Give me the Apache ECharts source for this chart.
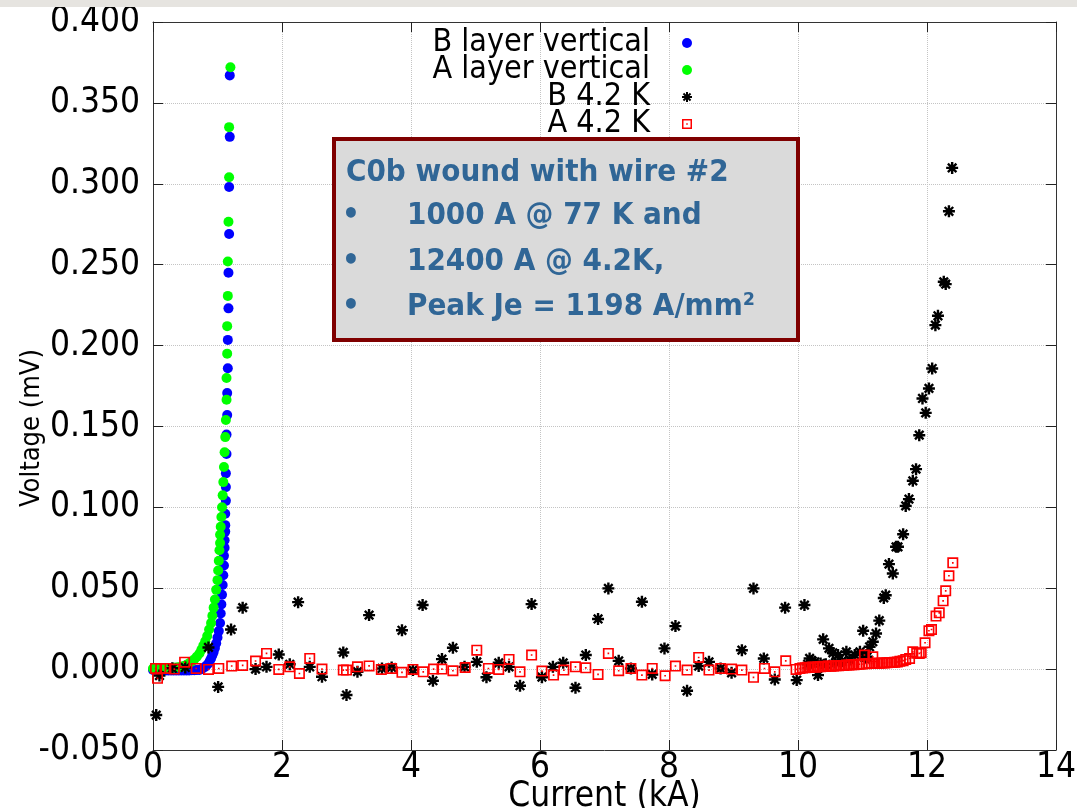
<!DOCTYPE html>
<html>
<head>
<meta charset="utf-8">
<title>C0b wound with wire #2</title>
<script src="https://cdn.jsdelivr.net/npm/echarts@6/dist/echarts.min.js"></script>
<style>
  html, body { margin: 0; padding: 0; background: #fff; }
  #chart { width: 1077px; height: 808px; }
</style>
</head>
<body>
<div id="chart"></div>
<script>
  // [current kA, voltage mV]
  var bLayerVertical = [
    [0.00, -0.0005], [0.04, -0.0006], [0.08, -0.0007], [0.12, -0.0008], [0.16, -0.0008], [0.20, -0.0009],
    [0.24, -0.0009], [0.28, -0.0009], [0.32, -0.0009], [0.36, -0.0009], [0.40, -0.0009], [0.44, -0.0009],
    [0.48, -0.0008], [0.52, -0.0008], [0.56, -0.0008], [0.60, -0.0007], [0.64, -0.0007], [0.68, -0.0006],
    [0.72, -0.0005], [0.76, 0.0002], [0.80, 0.0012], [0.83, 0.0022], [0.86, 0.0035], [0.88, 0.0050],
    [0.90, 0.0066], [0.92, 0.0085], [0.94, 0.0105], [0.96, 0.0130], [0.98, 0.0160], [1.00, 0.0195],
    [1.02, 0.0235], [1.04, 0.0285], [1.05, 0.0344], [1.06, 0.0400], [1.07, 0.0460], [1.08, 0.0520],
    [1.09, 0.0580], [1.10, 0.0640], [1.10, 0.0700], [1.11, 0.0750], [1.11, 0.0797], [1.12, 0.0850],
    [1.12, 0.0890], [1.12, 0.0960], [1.13, 0.1040], [1.13, 0.1125], [1.13, 0.1210], [1.14, 0.1330],
    [1.14, 0.1450], [1.15, 0.1570], [1.15, 0.1706], [1.16, 0.1860], [1.16, 0.2035], [1.17, 0.2230],
    [1.17, 0.2450], [1.18, 0.2690], [1.18, 0.2980], [1.19, 0.3290], [1.19, 0.3670]
  ];
  var aLayerVertical = [
    [0.00, 0.0004], [0.04, 0.0004], [0.08, 0.0004], [0.12, 0.0004], [0.16, 0.0004], [0.20, 0.0005],
    [0.24, 0.0006], [0.28, 0.0007], [0.32, 0.0008], [0.36, 0.0010], [0.40, 0.0012], [0.44, 0.0015],
    [0.48, 0.0020], [0.52, 0.0027], [0.56, 0.0036], [0.60, 0.0047], [0.64, 0.0060], [0.68, 0.0077],
    [0.72, 0.0097], [0.75, 0.0120], [0.78, 0.0145], [0.81, 0.0172], [0.84, 0.0205], [0.87, 0.0245],
    [0.90, 0.0285], [0.92, 0.0330], [0.94, 0.0380], [0.96, 0.0430], [0.98, 0.0490], [1.00, 0.0550],
    [1.01, 0.0610], [1.02, 0.0670], [1.03, 0.0735], [1.04, 0.0780], [1.04, 0.0830], [1.05, 0.0880],
    [1.06, 0.0940], [1.07, 0.1000], [1.08, 0.1074], [1.09, 0.1156], [1.10, 0.1249], [1.11, 0.1340],
    [1.12, 0.1434], [1.13, 0.1540], [1.14, 0.1665], [1.14, 0.1800], [1.15, 0.1950], [1.15, 0.2120],
    [1.16, 0.2307], [1.16, 0.2520], [1.17, 0.2765], [1.18, 0.3040], [1.18, 0.3350], [1.20, 0.3720]
  ];
  var b42K = [
    [0.05, -0.0284], [0.10, -0.0040], [0.30, 0.0005], [0.50, 0.0010], [0.86, 0.0134], [1.01, -0.0110],
    [1.21, 0.0245], [1.39, 0.0380], [1.59, 0.0000], [1.76, 0.0014], [1.95, 0.0090], [2.12, 0.0030],
    [2.25, 0.0414], [2.43, 0.0014], [2.62, -0.0047], [2.95, 0.0103], [3.00, -0.0160], [3.17, -0.0016],
    [3.35, 0.0334], [3.55, 0.0004], [3.70, 0.0010], [3.86, 0.0240], [4.03, -0.0006], [4.18, 0.0396],
    [4.34, -0.0072], [4.48, 0.0062], [4.65, 0.0132], [4.83, 0.0014], [5.02, 0.0045], [5.17, -0.0050],
    [5.36, 0.0039], [5.52, 0.0014], [5.69, -0.0103], [5.87, 0.0402], [6.03, -0.0050], [6.20, 0.0014],
    [6.36, 0.0039], [6.55, -0.0115], [6.71, 0.0087], [6.90, 0.0310], [7.06, 0.0499], [7.22, 0.0051],
    [7.41, 0.0004], [7.58, 0.0416], [7.74, -0.0033], [7.93, 0.0128], [8.10, 0.0266], [8.28, -0.0134],
    [8.46, 0.0019], [8.62, 0.0045], [8.80, 0.0004], [8.97, -0.0023], [9.13, 0.0117], [9.31, 0.0499],
    [9.47, 0.0066], [9.64, -0.0064], [9.80, 0.0380], [9.98, -0.0068], [10.10, 0.0396], [10.15, 0.0030],
    [10.18, 0.0066], [10.22, 0.0050], [10.26, 0.0045], [10.31, -0.0037], [10.35, 0.0035], [10.39, 0.0184],
    [10.43, 0.0030], [10.48, 0.0128], [10.54, 0.0100], [10.58, 0.0040], [10.62, 0.0087], [10.68, 0.0050],
    [10.75, 0.0107], [10.80, 0.0060], [10.88, 0.0087], [10.96, 0.0107], [11.01, 0.0237], [11.04, 0.0070],
    [11.07, 0.0076], [11.11, 0.0138], [11.16, 0.0169], [11.21, 0.0220], [11.26, 0.0300], [11.33, 0.0440],
    [11.36, 0.0457], [11.41, 0.0649], [11.47, 0.0591], [11.52, 0.0756], [11.55, 0.0756], [11.63, 0.0834],
    [11.67, 0.1009], [11.72, 0.1051], [11.78, 0.1164], [11.83, 0.1236], [11.88, 0.1446], [11.93, 0.1673],
    [11.98, 0.1584], [12.03, 0.1735], [12.08, 0.1858], [12.13, 0.2126], [12.17, 0.2184], [12.26, 0.2394],
    [12.29, 0.2380], [12.34, 0.2830], [12.39, 0.3098]
  ];
  var a42K = [
    [0.04, 0.0004], [0.07, -0.0057], [0.12, 0.0004], [0.20, 0.0004], [0.33, 0.0000], [0.49, 0.0043],
    [0.67, 0.0004], [0.86, -0.0002], [1.02, 0.0004], [1.22, 0.0019], [1.39, 0.0023], [1.59, 0.0050],
    [1.76, 0.0097], [1.95, -0.0002], [2.12, 0.0014], [2.27, -0.0027], [2.43, 0.0066], [2.62, 0.0000],
    [2.95, -0.0006], [3.00, -0.0006], [3.17, 0.0014], [3.35, 0.0020], [3.54, -0.0002], [3.70, 0.0004],
    [3.86, -0.0020], [4.03, -0.0002], [4.19, -0.0017], [4.35, 0.0000], [4.48, 0.0000], [4.65, -0.0010],
    [4.84, 0.0010], [5.02, 0.0117], [5.20, 0.0004], [5.36, -0.0002], [5.52, 0.0060], [5.69, -0.0017],
    [5.87, 0.0087], [6.03, -0.0012], [6.21, -0.0037], [6.37, -0.0006], [6.55, 0.0014], [6.71, 0.0008],
    [6.90, -0.0033], [7.06, 0.0097], [7.22, -0.0010], [7.41, 0.0004], [7.58, -0.0037], [7.74, 0.0004],
    [7.94, -0.0041], [8.10, 0.0019], [8.28, -0.0006], [8.46, 0.0072], [8.62, -0.0006], [8.80, 0.0004],
    [8.97, 0.0000], [9.13, -0.0006], [9.31, -0.0051], [9.48, 0.0004], [9.64, -0.0017], [9.81, 0.0051],
    [9.97, -0.0002], [10.03, 0.0004], [10.07, 0.0007], [10.11, 0.0008], [10.15, 0.0011], [10.19, 0.0010],
    [10.23, 0.0013], [10.27, 0.0012], [10.31, 0.0015], [10.35, 0.0014], [10.39, 0.0017], [10.43, 0.0016],
    [10.47, 0.0019], [10.51, 0.0018], [10.55, 0.0020], [10.59, 0.0021], [10.63, 0.0021], [10.67, 0.0023],
    [10.71, 0.0023], [10.75, 0.0025], [10.79, 0.0025], [10.83, 0.0027], [10.87, 0.0027], [10.91, 0.0029],
    [10.95, 0.0030], [10.99, 0.0031], [11.03, 0.0087], [11.06, 0.0033], [11.10, 0.0035], [11.14, 0.0035],
    [11.16, 0.0076], [11.18, 0.0036], [11.22, 0.0037], [11.26, 0.0037], [11.30, 0.0038], [11.34, 0.0038],
    [11.38, 0.0039], [11.42, 0.0041], [11.46, 0.0041], [11.50, 0.0043], [11.54, 0.0044], [11.58, 0.0048],
    [11.63, 0.0052], [11.67, 0.0060], [11.73, 0.0066], [11.78, 0.0107], [11.84, 0.0098], [11.88, 0.0097],
    [11.91, 0.0101], [11.97, 0.0163], [12.03, 0.0237], [12.07, 0.0245], [12.14, 0.0328], [12.19, 0.0348],
    [12.25, 0.0422], [12.29, 0.0484], [12.34, 0.0577], [12.40, 0.0657]
  ];

  var seriesNames = ['B layer vertical', 'A layer vertical', 'B 4.2 K', 'A 4.2 K'];
  var noteTitle = 'C0b wound with wire #2';
  var noteBullets = ['1000 A @ 77 K and', '12400 A @ 4.2K,', 'Peak Je = 1198 A/mm²'];

  var FONT = "'DejaVu Sans Condensed', 'Liberation Sans Narrow', sans-serif";
  var NOTE_COLOR = '#306696';
  var ASTERISK = 'path://M8,0H12V20H8Z M0,8H20V12H0Z M1.5,4.3L4.3,1.5L18.5,15.7L15.7,18.5Z M15.7,1.5L18.5,4.3L4.3,18.5L1.5,15.7Z';
  var OPEN_SQUARE = 'path://M0,0H20V20H0Z M3,3V17H17V3Z M8.5,8.5H11.5V11.5H8.5Z';

  function frameAxis(extra) {
    var axis = {
      type: 'value',
      nameMoveOverlap: false,
      axisLine: { show: true, onZero: false, lineStyle: { color: '#333', width: 1 } },
      axisTick: { show: true, inside: true, length: 10, lineStyle: { color: '#222' } },
      axisLabel: { show: false },
      splitLine: { show: false }
    };
    return Object.assign(axis, extra);
  }

  function noteText(x, y, text, align) {
    return {
      type: 'text', silent: true, z: 11, x: x, y: y,
      style: {
        text: text, fontFamily: FONT, fontWeight: 'bold', fontSize: 31,
        fill: NOTE_COLOR, align: align || 'left', verticalAlign: 'middle'
      }
    };
  }

  var chart = echarts.init(document.getElementById('chart'));
  chart.setOption({
    animation: false,
    backgroundColor: '#fff',
    textStyle: { fontFamily: FONT },
    grid: { left: 153, right: 21, top: 22, bottom: 58, outerBoundsMode: 'none', containLabel: false },
    legend: {
      orient: 'vertical',
      align: 'right',
      right: 385,
      top: 27,
      padding: 0,
      itemGap: -5,
      itemWidth: 64,
      itemHeight: 10,
      textStyle: { fontFamily: FONT, fontSize: 32, color: '#000' },
      data: seriesNames
    },
    xAxis: [
      frameAxis({
        min: 0, max: 14, interval: 2,
        name: 'Current (kA)',
        nameLocation: 'middle',
        nameGap: 29,
        nameTextStyle: { fontFamily: FONT, fontSize: 35, color: '#000' },
        axisLabel: { show: true, fontFamily: FONT, fontSize: 35, color: '#000', margin: 0 },
        splitLine: { show: true, lineStyle: { color: '#c4c4c4', type: 'dotted' } }
      }),
      frameAxis({ position: 'top', min: 0, max: 14, interval: 2 })
    ],
    yAxis: [
      frameAxis({
        min: -0.05, max: 0.4, interval: 0.05,
        name: 'Voltage (mV)',
        nameLocation: 'middle',
        nameGap: 108,
        nameTextStyle: { fontFamily: FONT, fontSize: 27, color: '#000', padding: [0, 84, 0, 0] },
        axisLabel: {
          show: true, fontFamily: FONT, fontSize: 35, color: '#000', margin: 13,
          formatter: function (v) { return v.toFixed(3); }
        },
        splitLine: { show: true, lineStyle: { color: '#c4c4c4', type: 'dotted' } }
      }),
      frameAxis({ position: 'right', min: -0.05, max: 0.4, interval: 0.05 })
    ],
    series: [
      {
        name: seriesNames[0], type: 'scatter', data: bLayerVertical,
        symbol: 'circle', symbolSize: 10,
        itemStyle: { color: '#0000ff', opacity: 1 }
      },
      {
        name: seriesNames[1], type: 'scatter', data: aLayerVertical,
        symbol: 'circle', symbolSize: 10,
        itemStyle: { color: '#00ff00', opacity: 1 }
      },
      {
        name: seriesNames[2], type: 'scatter', data: b42K,
        symbol: ASTERISK, symbolSize: 12,
        itemStyle: { color: '#000', opacity: 1 }
      },
      {
        name: seriesNames[3], type: 'scatter', data: a42K,
        symbol: OPEN_SQUARE, symbolSize: 11,
        itemStyle: { color: '#ff0000', opacity: 1 }
      }
    ],
    graphic: [
      {
        type: 'rect', silent: true, z: 10,
        shape: { x: 0, y: 0, width: 1077, height: 7 },
        style: { fill: '#e6e4e0' }
      },
      {
        type: 'rect', silent: true, z: 10,
        shape: { x: 334, y: 139, width: 464, height: 201 },
        style: { fill: '#dadada', stroke: '#7f0000', lineWidth: 4 }
      },
      noteText(346, 173, noteTitle),
      noteText(351, 216, '•', 'center'),
      noteText(407, 216, noteBullets[0]),
      noteText(351, 262, '•', 'center'),
      noteText(407, 262, noteBullets[1]),
      noteText(351, 307, '•', 'center'),
      noteText(407, 307, noteBullets[2])
    ]
  });
</script>
</body>
</html>
